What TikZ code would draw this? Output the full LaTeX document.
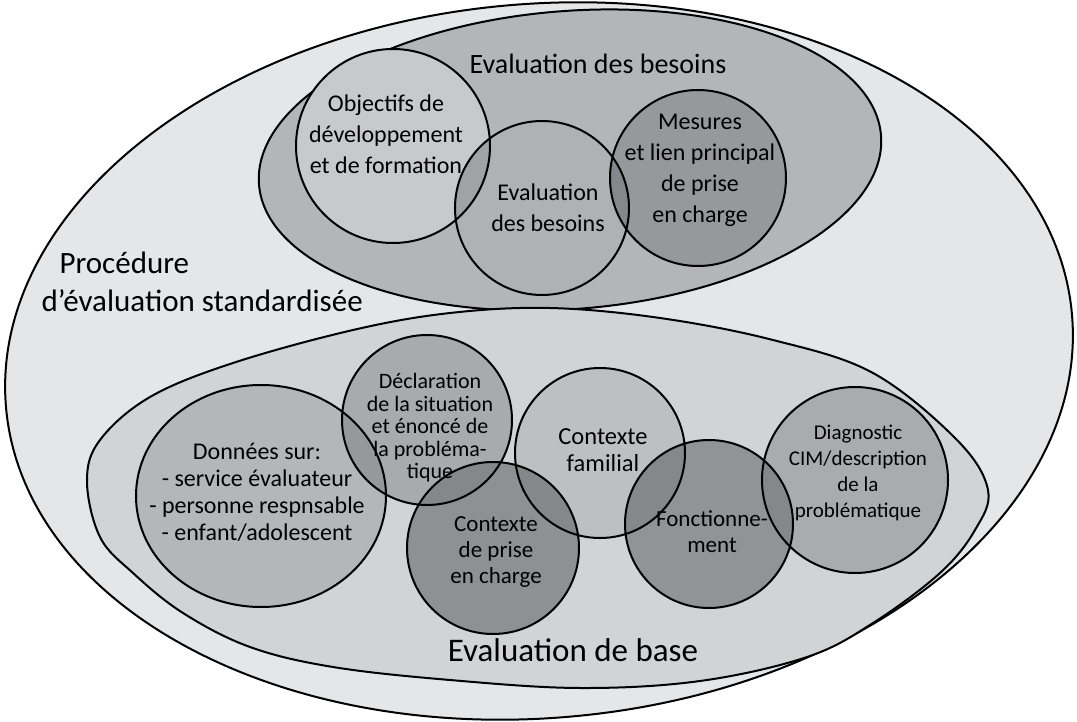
\documentclass[tikz,border=0pt]{standalone}
\usepackage{fontspec}
\setmainfont{Carlito}
\usetikzlibrary{calc}
\definecolor{procgray}{HTML}{E5E6E8}
\definecolor{besgray}{HTML}{B4B5B7}
\definecolor{basegray}{HTML}{D2D3D5}
\definecolor{objgray}{HTML}{C8C9CB}
\definecolor{evbgray}{HTML}{B0B1B3}
\definecolor{mesgray}{HTML}{97989A}
\definecolor{dongray}{HTML}{B5B6B8}
\definecolor{decgray}{HTML}{A9AAAC}
\definecolor{prigray}{HTML}{8F9092}
\definecolor{famgray}{HTML}{BEBFC1}
\definecolor{fongray}{HTML}{929395}
\definecolor{diagray}{HTML}{AAABAD}
\definecolor{lightlens}{HTML}{A1A2A4}
\definecolor{midlens}{HTML}{97989A}
\definecolor{darklens}{HTML}{86878A}
\newcommand{\lens}[3]{%
  \begin{scope}
    \clip #1;
    \fill[#3] #2;
  \end{scope}}
\tikzset{
  rim/.style={draw=black, line width=2pt},
  headtext/.style={font=\fontsize{28}{34}\selectfont, align=center},
  bigtext/.style={font=\fontsize{31}{38}\selectfont, align=center},
  toptext/.style={font=\fontsize{24}{31}\selectfont, align=center},
  bottext/.style={font=\fontsize{23}{26}\selectfont, align=center},
  smalltext/.style={font=\fontsize{20}{22}\selectfont, align=center}
  }

\begin{document}
\begin{tikzpicture}[x=1pt, y=1pt]
      \useasboundingbox (0,0) rectangle (1077,-722);
      \fill[white] (0,0) rectangle (1077,-722);
      % outer and inner ellipses
      \draw[rim, fill=procgray, rotate around={5:(539,-361)}] (539,-361) ellipse[x radius=535, y radius=357];
      \draw[rim, fill=besgray, rotate around={4.5:(570,-160)}] (570,-160) ellipse[x radius=312, y radius=149];
      \draw[rim, fill=basegray] plot[smooth cycle, tension=0.6] coordinates {
        (87,-481) (100,-440) (150,-397) (233,-363) (353,-330)
        (450,-313) (550,-308) (660,-318) (773,-340) (873,-373) (957,-440)
        (988,-490) (975,-530) (940,-573) (873,-623) (807,-657) (700,-681)
        (580,-688) (450,-680) (333,-667) (250,-647) (183,-613) (133,-573)
        (100,-537)};
      % circle centres
      \coordinate (obj) at (393,-146);
      \coordinate (evb) at (542,-208);
      \coordinate (mes) at (698,-178);
      \coordinate (don) at (261,-496);
      \coordinate (dec) at (427,-420);
      \coordinate (pri) at (493,-548);
      \coordinate (fam) at (600,-453);
      \coordinate (fon) at (709,-524);
      \coordinate (dia) at (855,-480);
      % fills
      \fill[objgray] (obj) circle[radius=97];
      \fill[evbgray] (evb) circle[radius=87];
      \fill[mesgray] (mes) circle[radius=88];
      \fill[dongray] (don) ellipse[x radius=125, y radius=111];
      \fill[decgray] (dec) circle[radius=85];
      \fill[prigray] (pri) circle[radius=86];
      \fill[famgray] (fam) circle[radius=85];
      \fill[fongray] (fon) circle[radius=84];
      \fill[diagray] (dia) circle[radius=93];
      % overlaps
      \lens{(obj) circle[radius=97]}{(evb) circle[radius=87]}{lightlens}
      \lens{(evb) circle[radius=87]}{(mes) circle[radius=88]}{darklens}
      \lens{(don) ellipse[x radius=125, y radius=111]}{(dec) circle[radius=85]}{midlens}
      \lens{(dec) circle[radius=85]}{(pri) circle[radius=86]}{darklens}
      \lens{(pri) circle[radius=86]}{(fam) circle[radius=85]}{darklens}
      \lens{(fam) circle[radius=85]}{(fon) circle[radius=84]}{darklens}
      \lens{(fon) circle[radius=84]}{(dia) circle[radius=93]}{darklens}
      % outlines
      \draw[rim] (obj) circle[radius=97] (evb) circle[radius=87] (mes) circle[radius=88];
      \draw[rim] (don) ellipse[x radius=125, y radius=111] (dec) circle[radius=85]
        (pri) circle[radius=86] (fam) circle[radius=85] (fon) circle[radius=84]
        (dia) circle[radius=93];
      % labels
      \node[headtext] (besoins) at (598,-64) {Evaluation des besoins};
      \node[bigtext, align=left, anchor=west] (proc) at (38,-282)
        {\hspace*{18pt}Procédure\\d'évaluation standardisée};
      \node[bigtext, font=\fontsize{33}{38}\selectfont] (base) at (573,-650) {Evaluation de base};
      \node[toptext] (objtxt) at (386,-134) {Objectifs de\\développement\\et de formation};
      \node[toptext] (evbtxt) at (548,-208) {Evaluation\\des besoins};
      \node[toptext] (mestxt) at (700,-170) {Mesures\\et lien principal\\de prise\\en charge};
      \node[bottext, font=\fontsize{24}{27}\selectfont] (dontxt) at (257,-492)
        {Données sur:\\- service évaluateur\\- personne respnsable\\- enfant/adolescent};
      \node[smalltext, font=\fontsize{22}{22.5}\selectfont] (dectxt) at (430,-428)
        {Déclaration\\de la situation\\et énoncé de\\la probléma-\\tique};
      \node[bottext] (pritxt) at (496,-552) {Contexte\\de prise\\en charge};
      \node[bottext, font=\fontsize{24.5}{27}\selectfont] (famtxt) at (603,-450) {Contexte\\familial};
      \node[bottext] (fontxt) at (712,-532) {Fonctionne-\\ment};
      \node[smalltext, font=\fontsize{21}{26}\selectfont] (diatxt) at (858,-473)
        {Diagnostic\\CIM/description\\de la\\problématique};
    \end{tikzpicture}
\end{document}
